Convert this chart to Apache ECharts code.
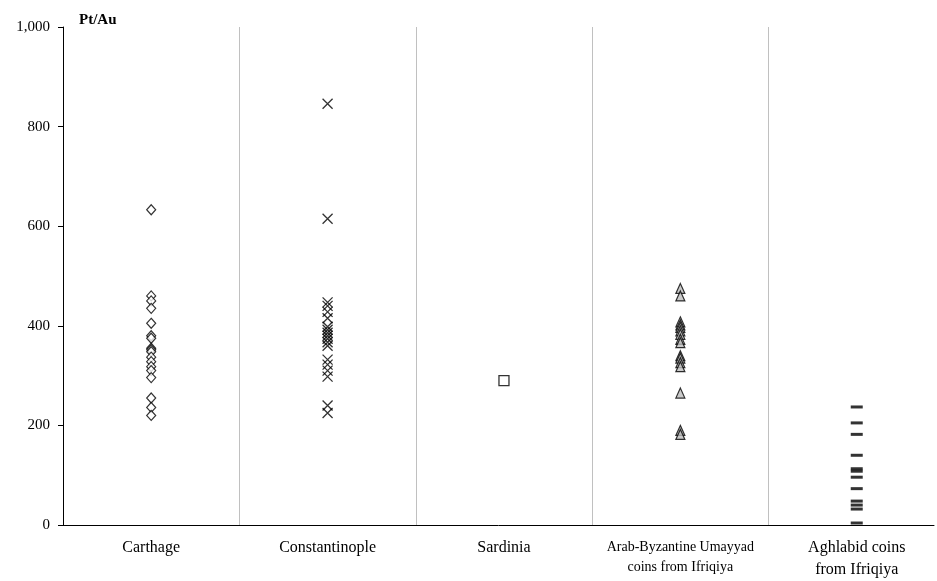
<!DOCTYPE html>
<html><head><meta charset="utf-8">
<script src="https://cdn.jsdelivr.net/npm/echarts@6/dist/echarts.min.js"></script>
<style>html,body{margin:0;padding:0;background:#fff}#c{width:937px;height:581px}</style>
</head><body><div id="c"></div>
<script>
const categories = ['Carthage','Constantinople','Sardinia','Arab-Byzantine Umayyad\ncoins from Ifriqiya','Aghlabid coins\nfrom Ifriqiya'];
const yTicks = [0,200,400,600,800,1000];
const carthage = [633,460,450,435,405,380,375,355,352,348,337,328,318,310,296,255,236,220];
const constantinople = [846,615,447,440,428,415,398,392,386,380,374,367,360,332,322,310,298,240,225];
const sardinia = [290];
const arabByz = [475,460,408,402,397,390,383,373,366,340,335,326,318,265,190,182];
const aghlabid = [237,205,182,140,113,108,96,73,48,40,32,4];
const separators = [0.5,1.5,2.5,3.5];

const font = '"Liberation Serif", "Times New Roman", serif';
function pts(ci, arr){ return arr.map(v => [ci, v]); }
const chart = echarts.init(document.getElementById('c'));
chart.setOption({
  animation:false,
  backgroundColor:'#fff',
  title:{text:'Pt/Au', left:74, top:8, textStyle:{fontFamily:font,fontWeight:'bold',fontSize:15,color:'#000'}},
  grid:{left:63, right:0, top:27, bottom:48, containLabel:false},
  xAxis:{type:'value', min:-0.5, max:4.438, interval:0.5,
    axisLine:{onZero:false,lineStyle:{color:'#000',width:1}}, axisTick:{show:false},
    splitLine:{show:false},
    axisLabel:{fontFamily:font, fontSize:16, color:'#000', margin:12, lineHeight:22,
      showMinLabel:true, showMaxLabel:true,
      rich:{s:{fontFamily:font,fontSize:14,lineHeight:20,color:'#000'}},
      formatter:function(v){
        if(Math.abs(v-Math.round(v))>1e-6) return '';
        const i=Math.round(v); const t=categories[i]; if(t===undefined) return '';
        if(i===3){return t.split('\n').map(s=>'{s|'+s+'}').join('\n');}
        return t; }}
  },
  yAxis:{type:'value', min:yTicks[0], max:yTicks[yTicks.length-1], interval:200,
    axisLine:{show:true,onZero:false,lineStyle:{color:'#000',width:1}},
    axisTick:{show:true,length:5,lineStyle:{color:'#000'}},
    splitLine:{show:false},
    axisLabel:{fontFamily:font,fontSize:15,color:'#000',margin:13,
      formatter:function(v){return v>=1000? String(v).replace(/\B(?=(\d{3})+(?!\d))/g, ','):String(v);}}
  },
  series:[
    {type:'scatter', data:pts(0,carthage), symbol:'diamond', symbolSize:[9,10], z:3,
      itemStyle:{color:'#fff', borderColor:'#000', borderWidth:1.2},
      markLine:{silent:true, symbol:'none', label:{show:false}, z:1,
        lineStyle:{color:'#c0c0c0', width:1, type:'solid'},
        data: separators.map(x=>({xAxis:x}))}},
    {type:'scatter', data:pts(1,constantinople), symbol:'path://M0,0L10,10M10,0L0,10', symbolSize:10, z:3,
      itemStyle:{color:'none', borderColor:'#000', borderWidth:1.3}},
    {type:'scatter', data:pts(2,sardinia), symbol:'rect', symbolSize:10, z:3,
      itemStyle:{color:'#fff', borderColor:'#000', borderWidth:1.3}},
    {type:'scatter', data:pts(3,arabByz), symbol:'triangle', symbolSize:[9,10], z:3,
      itemStyle:{color:'#bdbdbd', borderColor:'#000', borderWidth:1.2}},
    {type:'scatter', data:pts(4,aghlabid), symbol:'rect', symbolSize:[12,3], z:3,
      itemStyle:{color:'#000'}}
  ]
});
</script></body></html>
